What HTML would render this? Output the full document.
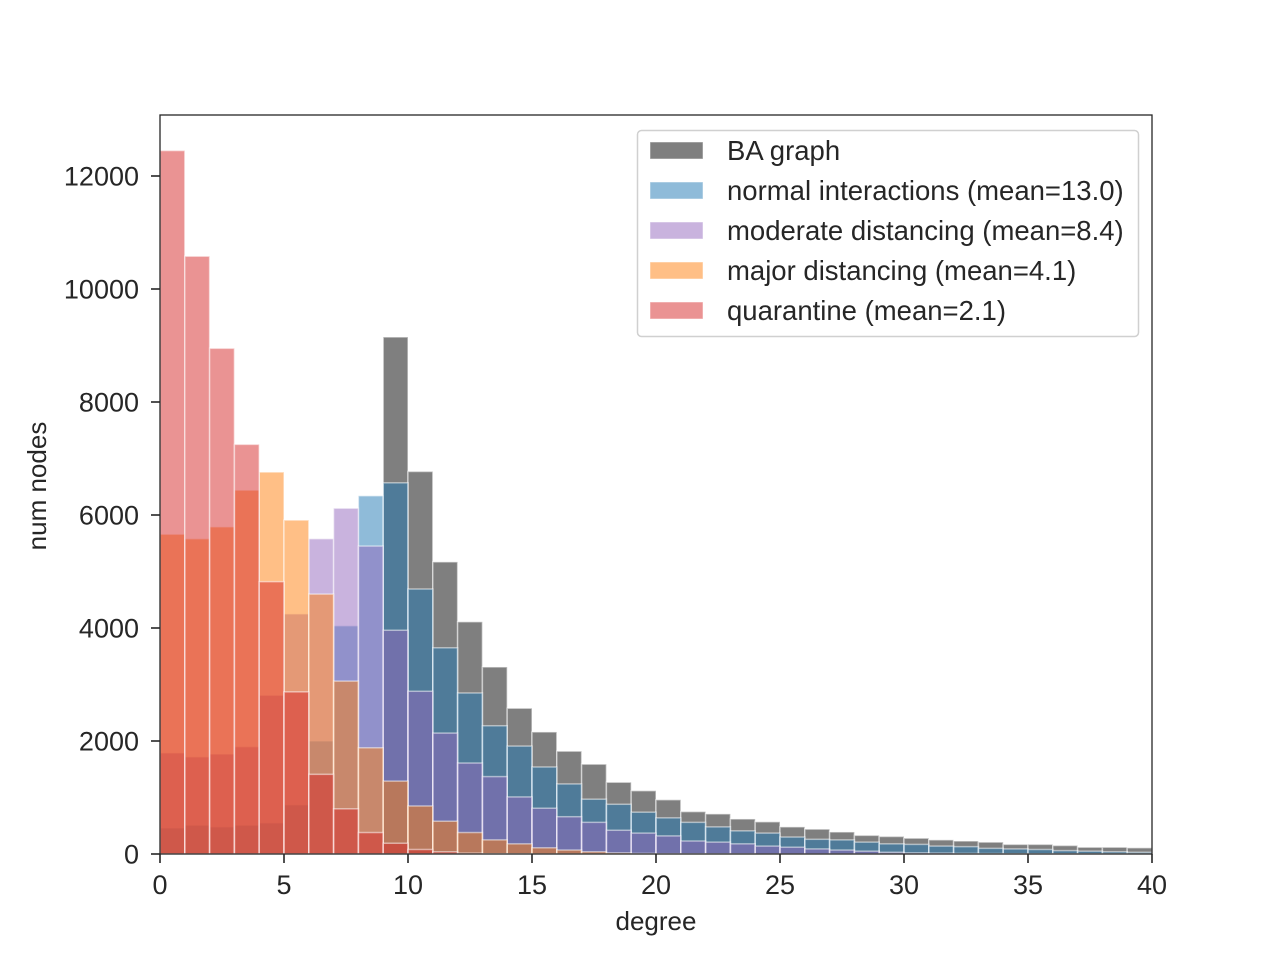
<!DOCTYPE html>
<html><head><meta charset="utf-8"><style>
html,body{margin:0;padding:0;background:#fff}
svg{display:block;font-family:"Liberation Sans",Arial,sans-serif}
</style></head><body>
<svg id="chart" width="1280" height="960" viewBox="0 0 1280 960" xmlns="http://www.w3.org/2000/svg">
<rect width="1280" height="960" fill="#fff"/>
<g id="bars"></g>
<g id="axes"></g>
<g id="legend"></g>
</svg>
<script>
const binStarts = [0,1,2,3,4,5,6,7,8,9,10,11,12,13,14,15,16,17,18,19,20,21,22,23,24,25,26,27,28,29,30,31,32,33,34,35,36,37,38,39];
const baGraph = [0,0,0,0,0,0,0,0,0,9150,6770,5170,4110,3310,2580,2160,1820,1590,1270,1120,960,750,710,620,570,480,440,390,330,310,280,250,230,210,170,170,150,120,120,110];
const normalInteractions = [460,510,480,510,550,870,2000,4040,6340,6570,4690,3650,2850,2270,1910,1540,1240,970,880,740,640,560,480,410,370,300,260,250,210,180,170,140,130,100,90,80,60,50,40,30];
const moderateDistancing = [1790,1720,1770,1900,2810,4250,5580,6120,5450,3960,2880,2140,1610,1370,1010,810,660,560,420,370,320,230,210,180,140,120,90,70,50,30,20,15,10,8,5,4,3,2,1,1];
const majorDistancing = [5660,5580,5790,6440,6760,5910,4600,3060,1880,1290,850,580,380,250,180,110,70,40,20,10,5,3,2,1,0,0,0,0,0,0,0,0,0,0,0,0,0,0,0,0];
const quarantine = [12450,10580,8950,7250,4820,2870,1410,800,380,190,80,40,15,5,2,0,0,0,0,0,0,0,0,0,0,0,0,0,0,0,0,0,0,0,0,0,0,0,0,0];
const seriesNames = ["BA graph","normal interactions (mean=13.0)","moderate distancing (mean=8.4)","major distancing (mean=4.1)","quarantine (mean=2.1)"];
const xTicks = [0,5,10,15,20,25,30,35,40];
const yTicks = [0,2000,4000,6000,8000,10000,12000];

const NS="http://www.w3.org/2000/svg";
const X0=160,X1=1152,Y0=854,YT=115;
const xs=v=>X0+(v/40)*(X1-X0);
const ys=v=>Y0-v*(678/12000);
function mk(tag,attrs,parent){const e=document.createElementNS(NS,tag);for(const k in attrs)e.setAttribute(k,attrs[k]);parent.appendChild(e);return e;}

const series=[baGraph,normalInteractions,moderateDistancing,majorDistancing,quarantine];
const colors=["#000000","#1f77b4","#9467bd","#ff7f0e","#d62728"];
const keys=["ba-graph","normal","moderate","major","quarantine"];
const bars=document.getElementById('bars');
series.forEach((s,si)=>{
  const g=mk('g',{},bars);
  
  
  s.forEach((v,i)=>{
    if(v<=0)return;
    const x=xs(binStarts[i]),w=xs(binStarts[i]+1)-x,y=ys(v);
    const r=mk('rect',{x:x,y:y,width:w,height:Y0-y,fill:colors[si],'fill-opacity':0.5,stroke:'#fff','stroke-opacity':0.5,'stroke-width':1.5},g);
    
    
  });
});

const ax=document.getElementById('axes');
const frame=mk('rect',{x:X0,y:YT,width:X1-X0,height:Y0-YT,fill:'none',stroke:'#262626','stroke-width':1.3},ax);


xTicks.forEach(t=>{
  const x=xs(t);
  mk('line',{x1:x,x2:x,y1:Y0,y2:Y0+9,stroke:'#262626','stroke-width':1.6},ax);
  const tx=mk('text',{x:x,y:894,'text-anchor':'middle','font-size':27,fill:'#262626'},ax);
  tx.textContent=t;
  
  
});
yTicks.forEach(t=>{
  const y=ys(t);
  mk('line',{x1:X0-9,x2:X0,y1:y,y2:y,stroke:'#262626','stroke-width':1.6},ax);
  const tx=mk('text',{x:139,y:y+9.5,'text-anchor':'end','font-size':27,fill:'#262626'},ax);
  tx.textContent=t;
  
  
});
const xl=mk('text',{x:656,y:930,'text-anchor':'middle','font-size':26,fill:'#262626'},ax);
xl.textContent='degree';


const yl=mk('text',{x:0,y:0,'text-anchor':'middle','font-size':26,fill:'#262626',transform:'translate(46,486) rotate(-90)'},ax);
yl.textContent='num nodes';



const lg=document.getElementById('legend');
const box=mk('rect',{x:637.5,y:130.5,width:501,height:206,rx:4,fill:'#fff','fill-opacity':0.8,stroke:'#d0d0d0','stroke-width':1.5},lg);


seriesNames.forEach((n,i)=>{
  const y=142+i*40;
  const g=mk('g',{},lg);
  
  
  mk('rect',{x:650,y:y,width:53,height:17,fill:colors[i],'fill-opacity':0.5,stroke:'#fff','stroke-opacity':0.5},g);
  const t=mk('text',{x:727,y:y+18,'font-size':27.5,fill:'#262626'},g);
  t.textContent=n;
});
</script>
</body></html>
